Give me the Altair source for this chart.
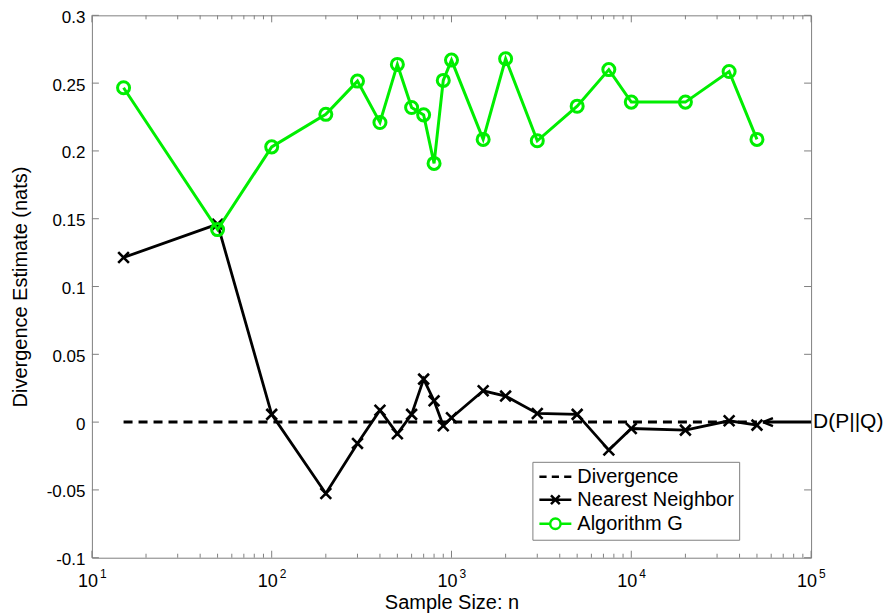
import altair as alt
import pandas as pd

# ---- data ----
sample_sizes = [15, 50, 100, 200, 300, 400, 500, 600, 700, 800, 900, 1000,
                1500, 2000, 3000, 5000, 7500, 10000, 20000, 35000, 50000]
algorithm_g = [0.2466, 0.142, 0.203, 0.227, 0.2515, 0.221, 0.2638, 0.232, 0.2266,
               0.1908, 0.252, 0.267, 0.2085, 0.268, 0.2075, 0.233, 0.260, 0.236,
               0.236, 0.2586, 0.2085]
nearest_neighbor = [0.1214, 0.146, 0.0057, -0.0526, -0.0157, 0.0088, -0.0086, 0.0057,
                    0.0317, 0.0157, -0.0027, 0.0032, 0.0231, 0.0192, 0.0064, 0.0057,
                    -0.0206, -0.0047, -0.0059, 0.001, -0.0022]
divergence_n = [15, 50000]
divergence_val = [0.0, 0.0]
arrow_n = [54000, 100000]
arrow_val = [0.0, 0.0]
annotation_text = ["D(P||Q)"]
annotation_n = [100000]
annotation_val = [0.0]

series_names = ["Divergence", "Nearest Neighbor", "Algorithm G"]
series_colors = ["#000000", "#000000", "#00ee00"]

x_major_ticks = [10, 100, 1000, 10000, 100000]
x_major_exps = ["1", "2", "3", "4", "5"]
x_minor_ticks = [m * d for d in [10, 100, 1000, 10000] for m in range(2, 10)]
y_ticks = [-0.1, -0.05, 0.0, 0.05, 0.1, 0.15, 0.2, 0.25, 0.3]

W, H = 720, 543
FONT = "Liberation Sans"
FRAME = "#808080"
GREEN = "#00ee00"

xscale = alt.Scale(type="log", domain=[10, 100000])
yscale = alt.Scale(domain=[-0.1, 0.3], nice=False, zero=False)

nn_df = pd.DataFrame({"n": sample_sizes, "v": nearest_neighbor})
g_df = pd.DataFrame({"n": sample_sizes, "v": algorithm_g})
div_df = pd.DataFrame({"n": divergence_n, "v": divergence_val})
arrow_df = pd.DataFrame({"n": arrow_n, "v": arrow_val})
ann_df = pd.DataFrame({"n": annotation_n, "v": annotation_val, "t": annotation_text})
major_df = pd.DataFrame({"n": x_major_ticks, "e": x_major_exps, "b": ["10"] * 5})
minor_df = pd.DataFrame({"n": x_minor_ticks})
ytick_df = pd.DataFrame({"v": y_ticks})
legend_df = pd.DataFrame({"series": series_names})

X = alt.X("n:Q", scale=xscale,
          axis=alt.Axis(labels=False, ticks=False, domain=False, grid=False,
                        title="Sample Size: n", titleFont=FONT, titleFontSize=20,
                        titleFontWeight="normal", titleColor="black", titlePadding=35))
Y = alt.Y("v:Q", scale=yscale,
          axis=alt.Axis(values=y_ticks, ticks=False, tickSize=0, domain=False, grid=False,
                        labelExpr="datum.value < 0 ? '-' + format(-datum.value, '~g') : format(datum.value, '~g')",
                        labelFont=FONT, labelFontSize=17, labelColor="black", labelPadding=7,
                        labelOffset=2,
                        title="Divergence Estimate (nats)", titleFont=FONT, titleFontSize=20,
                        titleFontWeight="normal", titleColor="black", titlePadding=16))

xs = alt.X("n:Q", scale=xscale)
ys = alt.Y("v:Q", scale=yscale)

# inward ticks (box style)
x_major_bottom = alt.Chart(major_df).mark_rule(color=FRAME, strokeWidth=1).encode(
    x=xs, y=alt.value(H), y2=alt.value(H - 7))
x_major_top = alt.Chart(major_df).mark_rule(color=FRAME, strokeWidth=1).encode(
    x=xs, y=alt.value(0), y2=alt.value(7))
x_minor_bottom = alt.Chart(minor_df).mark_rule(color=FRAME, strokeWidth=1).encode(
    x=xs, y=alt.value(H), y2=alt.value(H - 4))
x_minor_top = alt.Chart(minor_df).mark_rule(color=FRAME, strokeWidth=1).encode(
    x=xs, y=alt.value(0), y2=alt.value(4))
y_left = alt.Chart(ytick_df).mark_rule(color=FRAME, strokeWidth=1).encode(
    y=ys, x=alt.value(0), x2=alt.value(7))
y_right = alt.Chart(ytick_df).mark_rule(color=FRAME, strokeWidth=1).encode(
    y=ys, x=alt.value(W), x2=alt.value(W - 7))

# x tick labels 10^k
x_base = alt.Chart(major_df).mark_text(font=FONT, fontSize=18, align="right",
                                       baseline="alphabetic", dx=6, color="black").encode(
    x=xs, y=alt.value(H + 29), text="b:N")
x_exp = alt.Chart(major_df).mark_text(font=FONT, fontSize=12, align="left",
                                      baseline="alphabetic", dx=8, color="black").encode(
    x=xs, y=alt.value(H + 20), text="e:N")

# data
div_line = alt.Chart(div_df).mark_line(color="black", strokeWidth=3, strokeDash=[9, 6]).encode(
    x=X, y=Y)
nn_line = alt.Chart(nn_df).mark_line(color="black", strokeWidth=2.8).encode(x=xs, y=ys)
nn_pts = alt.Chart(nn_df).mark_point(
    shape="M-1,-1L1,1M-1,1L1,-1", size=115, color="black", strokeWidth=2.6,
    filled=False, opacity=1).encode(x=xs, y=ys)
g_line = alt.Chart(g_df).mark_line(color=GREEN, strokeWidth=3).encode(x=xs, y=ys)
g_pts = alt.Chart(g_df).mark_point(shape="circle", size=145, color=GREEN, strokeWidth=3,
                                   filled=False, opacity=1).encode(x=xs, y=ys)

# annotation arrow + text
arrow_shaft = alt.Chart(arrow_df).mark_line(color="black", strokeWidth=3).encode(x=xs, y=ys)
arrow_head = alt.Chart(arrow_df.head(1)).mark_point(
    shape="M0,0L2,-0.8M0,0L2,0.8", size=100, color="black", strokeWidth=2.5,
    filled=False, opacity=1).encode(x=xs, y=ys)
ann = alt.Chart(ann_df).mark_text(font=FONT, fontSize=21, align="left", baseline="middle",
                                  dx=2, color="black").encode(x=xs, y=ys, text="t:N")

# legend (invisible carrier layer; legend symbols are real legend glyphs)
legend_icons = [
    "M-1,0H-0.1M0.55,0H1.45M2.1,0H3",
    "M-1,0H3M0.45,-0.55L1.55,0.55M0.45,0.55L1.55,-0.55",
    "M-1,0H0.35M1.65,0H3M0.35,0A0.65,0.65 0 1,0 1.65,0A0.65,0.65 0 1,0 0.35,0",
]
legend_props = dict(title=None, orient="none", legendX=441, legendY=447,
                    symbolSize=256, symbolStrokeWidth=2.5,
                    symbolFillColor="transparent",
                    labelFont=FONT, labelFontSize=20, labelColor="black",
                    labelOffset=20, rowPadding=3, padding=5,
                    strokeColor=FRAME, fillColor="white")
legend_layer = alt.Chart(legend_df).mark_point(opacity=0, filled=False).encode(
    color=alt.Color("series:N",
                    scale=alt.Scale(domain=series_names, range=series_colors),
                    legend=alt.Legend(**legend_props)),
    shape=alt.Shape("series:N",
                    scale=alt.Scale(domain=series_names, range=legend_icons),
                    legend=alt.Legend(**legend_props)),
)

chart = alt.layer(
    div_line, x_minor_bottom, x_minor_top, x_major_bottom, x_major_top, y_left, y_right,
    x_base, x_exp, nn_line, nn_pts, g_line, g_pts, arrow_shaft, arrow_head, ann,
    legend_layer,
).properties(
    width=W, height=H,
    padding={"left": 2, "top": 0, "right": 0, "bottom": 0},
    background="white",
).configure_view(stroke=FRAME, strokeWidth=1)

chart.save("out.html", embed_options={"renderer": "svg", "actions": False})
